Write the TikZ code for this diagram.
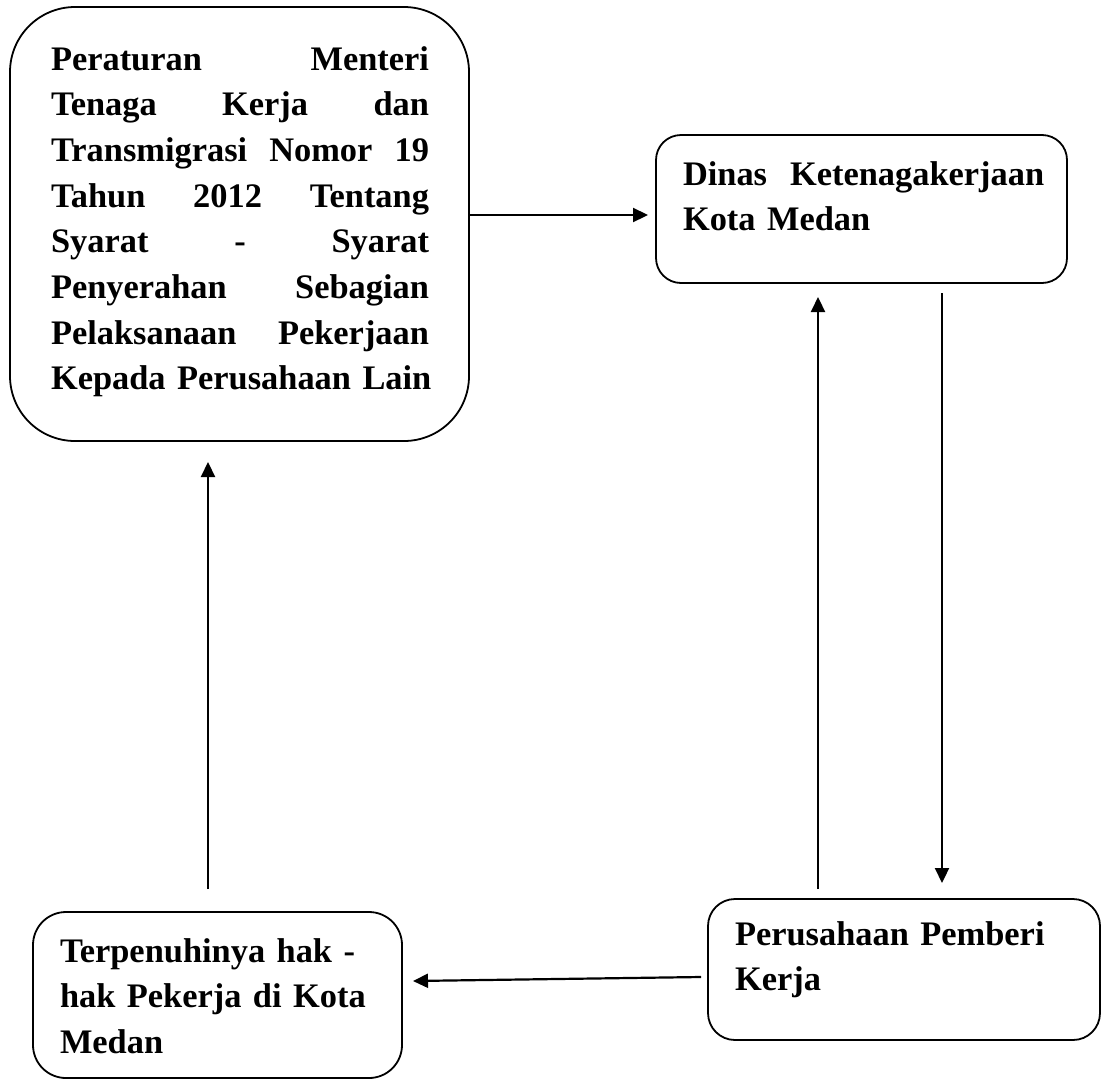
\documentclass[tikz,border=0pt]{standalone}
\usepackage{fontspec}
\setmainfont{Liberation Serif}
\usetikzlibrary{arrows.meta,calc}
\newcommand{\jlA}[2]{\leavevmode\hbox to 378pt{#1\hfill #2}}
\newcommand{\jlB}[3]{\leavevmode\hbox to 378pt{#1\hfill #2\hfill #3}}
\begin{document}
\begin{tikzpicture}[x=1pt,y=-1pt,
  box/.style={draw,line width=1.8pt,inner sep=0pt,outer sep=0pt},
  txt/.style={inner sep=0pt,outer sep=0pt,anchor=base west,align=left,
    font=\fontsize{34.4}{45.7}\selectfont\bfseries},
  arr/.style={line width=2.2pt,-{Triangle[length=15pt,width=14pt]}}]
\useasboundingbox (0,0) rectangle (1102,1079);
% boxes
\node[box,rounded corners=65pt,minimum width=459pt,minimum height=434pt] (b1) at (239.5,224) {};
\node[box,rounded corners=25pt,minimum width=411pt,minimum height=148pt] (b2) at (861.5,209) {};
\node[box,rounded corners=33pt,minimum width=369pt,minimum height=166pt] (b3) at (217.5,995) {};
\node[box,rounded corners=27pt,minimum width=392pt,minimum height=141pt] (b4) at (904,969.5) {};
% texts
\node[txt,text width=400pt] (t1) at (51,70) {\jlA{Peraturan}{Menteri}\\\jlB{Tenaga}{Kerja}{dan}\\\jlB{Transmigrasi}{Nomor}{19}\\\jlB{Tahun}{2012}{Tentang}\\\jlB{Syarat}{-}{Syarat}\\\jlA{Penyerahan}{Sebagian}\\\jlA{Pelaksanaan}{Pekerjaan}\\\mbox{Kepada Perusahaan Lain}};
\node[txt,text width=400pt] (t2) at (683,185) {Dinas\ \ Ketenagakerjaan\\Kota Medan};
\node[txt,text width=340pt] (t3) at (60,962) {Terpenuhinya hak -\\hak Pekerja di Kota\\Medan};
\node[txt,text width=350pt] (t4) at (735,945) {Perusahaan Pemberi\\Kerja};
% connectors
\draw[arr] ($(b1.east)+(0,-9)$) -- ($(b2.west)+(-8,6)$);
\draw[arr] ($(b4.north)+(-86,-10)$) -- ($(b2.south)+(-43.5,14)$);
\draw[arr] ($(b2.south)+(80.5,10)$) -- ($(b4.north)+(38,-16)$);
\draw[arr] ($(b4.west)+(-7,7.5)$) -- ($(b3.east)+(11,-14)$);
\draw[arr] ($(b3.north)+(-9.5,-23)$) -- ($(b1.south)+(-31.5,21)$);
\end{tikzpicture}
\end{document}
